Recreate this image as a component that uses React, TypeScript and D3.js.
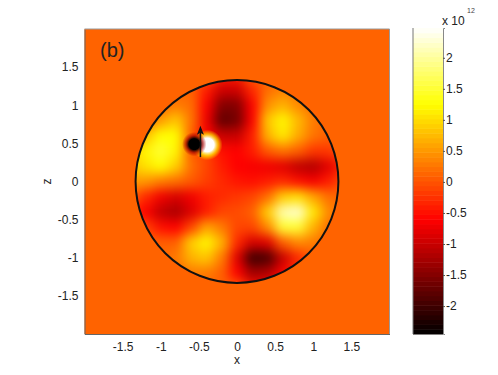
import React, { useEffect, useRef } from 'react';
import * as d3 from 'd3';

// field values (x 10^12), on a 0.2 grid
const gridX = [-1.4, -1.2, -1, -0.8, -0.6, -0.4, -0.2, 0, 0.2, 0.4, 0.6, 0.8, 1, 1.2, 1.4];
const gridZ = [1.4, 1.2, 1, 0.8, 0.6, 0.4, 0.2, 0, -0.2, -0.4, -0.6, -0.8, -1, -1.2, -1.4];
const fieldValues = [
  [.12, .12, .12, .12, .12, .12, -.4, -.4, .12, .12, .12, .12, .12, .12, .12],
  [.12, .12, .12, .12, .12, -.4, -.95, -.95, -.3, .2, .35, .25, .12, .12, .12],
  [.12, .12, .12, .3, .2, -.6, -1.5, -1.5, -.6, .45, .7, .4, .2, .12, .12],
  [.12, .12, .55, .85, .25, -.7, -1.75, -1.6, -.6, .85, 1.2, .75, .3, .12, .12],
  [.12, .8, 1.25, 1.25, .1, -.6, -1, -1, -.4, .7, 1.1, .65, .25, .1, .12],
  [.85, 1.2, 1.5, 1.2, .05, -.1, -.5, -.6, -.4, .05, .25, .1, -.2, -.2, .12],
  [.8, 1.05, 1.25, .9, .2, -.1, -.4, -.6, -.65, -.7, -.8, -1.05, -1.15, -.8, -.3],
  [.5, .5, .3, .2, .05, -.15, -.3, -.45, -.5, -.4, -.3, -.5, -.65, -.4, 0],
  [.12, -.3, -.7, -.9, -.7, -.4, -.3, -.2, -.1, .2, .9, 1.05, .6, .2, .12],
  [-.3, -.6, -1.05, -1.2, -.85, -.4, -.1, -.05, .1, .9, 2.1, 2.25, 1.1, .4, .12],
  [.12, -.1, -.5, -.6, -.1, .6, .3, -.1, -.1, .4, 1.5, 1.5, .7, .2, .12],
  [.12, .12, .1, .1, .9, 1.2, .7, -.3, -.9, -.8, .1, .4, .3, .12, .12],
  [.12, .12, .12, .3, .7, .85, .3, -.8, -2, -1.9, -1, -.3, .1, .12, .12],
  [.12, .12, .12, .12, .3, .3, .1, -.6, -1.25, -1.15, -.65, -.2, .12, .12, .12],
  [.12, .12, .12, .12, .12, .12, .12, .12, -.5, -.5, .12, .12, .12, .12, .12],
];
const backgroundValue = 0.12;

// the tight black/white pair next to the arrow, white drawn first
const dipoleX = [-0.39, -0.56];
const dipoleZ = [0.48, 0.49];
const dipoleValues = [2.48, -2.45];
const dipoleReach = [0.2, 0.16];

const circleRadius = 1.33;
const arrowX = [-0.48, -0.48];
const arrowZ = [0.32, 0.73];

const axisTicks = [-1.5, -1, -0.5, 0, 0.5, 1, 1.5];
const colorTicks = [-2, -1.5, -1, -0.5, 0, 0.5, 1, 1.5, 2];
const colorDomain = [-2.45, -0.6, 1.25, 2.48];
const colorRange = ['#000000', '#ff0000', '#ffff00', '#ffffff'];

const fmt = (d: number) => String(d);

const App = () => {
  const chartRef = useRef<SVGSVGElement>(null);

  useEffect(() => {
    const svg = d3.select(chartRef.current);
    svg.selectAll('*').remove();

    const x = d3.scaleLinear().domain([-2, 2]).range([84.5, 389.5]);
    const z = d3.scaleLinear().domain([-2, 2]).range([334, 29]);
    const color = d3.scaleLinear<string>().domain(colorDomain).range(colorRange).clamp(true);
    const cbar = d3.scaleLinear().domain([-2.45, 2.48]).range([334, 28]);

    const defs = svg.append('defs');
    defs.append('clipPath').attr('id', 'disc')
      .append('circle')
      .attr('cx', x(0)).attr('cy', z(0))
      .attr('r', x(circleRadius) - x(0));
    defs.append('filter').attr('id', 'smooth')
      .attr('x', '-10%').attr('y', '-10%').attr('width', '120%').attr('height', '120%')
      .attr('color-interpolation-filters', 'sRGB')
      .append('feGaussianBlur').attr('stdDeviation', 6);

    dipoleValues.forEach((v, i) => {
      const g = defs.append('radialGradient').attr('id', `dip${i}`);
      [0, 0.45, 0.72, 1].forEach((t, j) => {
        g.append('stop')
          .attr('offset', t)
          .attr('stop-color', color(j < 2 ? v : v * 0.5))
          .attr('stop-opacity', [1, 1, 0.65, 0][j]);
      });
    });

    svg.append('rect')
      .attr('x', x(-2)).attr('y', z(2))
      .attr('width', x(2) - x(-2)).attr('height', z(-2) - z(2))
      .attr('fill', color(backgroundValue));

    const disc = svg.append('g').attr('clip-path', 'url(#disc)');
    const cells = disc.append('g').attr('filter', 'url(#smooth)');
    const cw = x(0.2) - x(0);
    const ch = z(0) - z(0.2);
    fieldValues.forEach((row, r) => {
      row.forEach((v, c) => {
        cells.append('rect')
          .attr('x', x(gridX[c]) - cw / 2)
          .attr('y', z(gridZ[r]) - ch / 2)
          .attr('width', cw + 0.5)
          .attr('height', ch + 0.5)
          .attr('fill', color(v));
      });
    });

    dipoleValues.forEach((_, i) => {
      disc.append('circle')
        .attr('cx', x(dipoleX[i])).attr('cy', z(dipoleZ[i]))
        .attr('r', x(dipoleReach[i]) - x(0))
        .attr('fill', `url(#dip${i})`);
    });

    // outline and arrow
    svg.append('circle')
      .attr('cx', x(0)).attr('cy', z(0))
      .attr('r', x(circleRadius) - x(0))
      .attr('fill', 'none').attr('stroke', '#111').attr('stroke-width', 2);

    svg.append('line')
      .attr('x1', x(arrowX[0])).attr('y1', z(arrowZ[0]))
      .attr('x2', x(arrowX[1])).attr('y2', z(arrowZ[1]) + 4)
      .attr('stroke', '#111').attr('stroke-width', 1.5);
    const ax = x(arrowX[1]);
    const ay = z(arrowZ[1]);
    svg.append('path')
      .attr('d', `M${ax},${ay}L${ax + 3.5},${ay + 9}L${ax},${ay + 7}L${ax - 3.5},${ay + 9}Z`)
      .attr('fill', '#111');

    svg.append('text')
      .attr('x', 100).attr('y', 57)
      .attr('font-size', 20).attr('fill', '#222')
      .text('(b)');

    // axes
    const xAxis = svg.append('g')
      .attr('transform', `translate(0,${z(-2)})`)
      .call(d3.axisBottom(x).tickValues(axisTicks).tickFormat(d => fmt(+d)).tickSize(0).tickPadding(8));
    const zAxis = svg.append('g')
      .attr('transform', `translate(${x(-2)},0)`)
      .call(d3.axisLeft(z).tickValues(axisTicks).tickFormat(d => fmt(+d)).tickSize(0).tickPadding(6));

    svg.append('line')
      .attr('x1', x(-2)).attr('x2', x(2)).attr('y1', z(2)).attr('y2', z(2))
      .attr('stroke', '#999');
    svg.append('line')
      .attr('x1', x(2)).attr('x2', x(2)).attr('y1', z(2)).attr('y2', z(-2))
      .attr('stroke', '#999');

    [xAxis, zAxis].forEach(a => {
      a.select('.domain').attr('stroke', '#666');
      a.selectAll('text').attr('font-size', 12).attr('font-family', 'Liberation Sans').attr('fill', '#222');
    });

    svg.append('text')
      .attr('x', x(0)).attr('y', 364)
      .attr('text-anchor', 'middle').attr('font-size', 12).attr('fill', '#222')
      .text('x');
    svg.append('text')
      .attr('transform', `translate(51,${z(0)}) rotate(-90)`)
      .attr('text-anchor', 'middle').attr('font-size', 12).attr('fill', '#222')
      .text('z');

    // colorbar, 64 levels like the source colormap
    const levels = d3.range(64);
    const step = (2.48 + 2.45) / 64;
    svg.append('g').selectAll('rect')
      .data(levels)
      .enter()
      .append('rect')
      .attr('x', 413)
      .attr('width', 30)
      .attr('y', d => cbar(-2.45 + (d + 1) * step))
      .attr('height', d => cbar(-2.45 + d * step) - cbar(-2.45 + (d + 1) * step) + 0.5)
      .attr('fill', d => color(-2.45 + (d + 0.5) * step));

    const cAxis = svg.append('g')
      .attr('transform', 'translate(443,0)')
      .call(d3.axisRight(cbar).tickValues(colorTicks).tickFormat(d => fmt(+d)).tickSize(2).tickPadding(1));
    cAxis.select('.domain').attr('stroke', '#888');
    cAxis.selectAll('line').attr('stroke', '#555').attr('x1', 0).attr('x2', 2);
    cAxis.selectAll('text').attr('font-size', 12).attr('font-family', 'Liberation Sans').attr('fill', '#222');
    svg.append('line')
      .attr('x1', 413).attr('x2', 413).attr('y1', 28).attr('y2', 334)
      .attr('stroke', '#777');

    svg.append('text')
      .attr('x', 442).attr('y', 25)
      .attr('font-size', 12).attr('fill', '#222')
      .text('x 10');
    svg.append('text')
      .attr('x', 467).attr('y', 13)
      .attr('font-size', 7).attr('fill', '#444')
      .text('12');
  }, []);

  return (
    <svg
      ref={chartRef}
      width={498}
      height={375}
      fontFamily="Liberation Sans, Arial, sans-serif"
      style={{ position: 'absolute', left: 0, top: 0, background: '#fff' }}
    />
  );
};

export default App;
